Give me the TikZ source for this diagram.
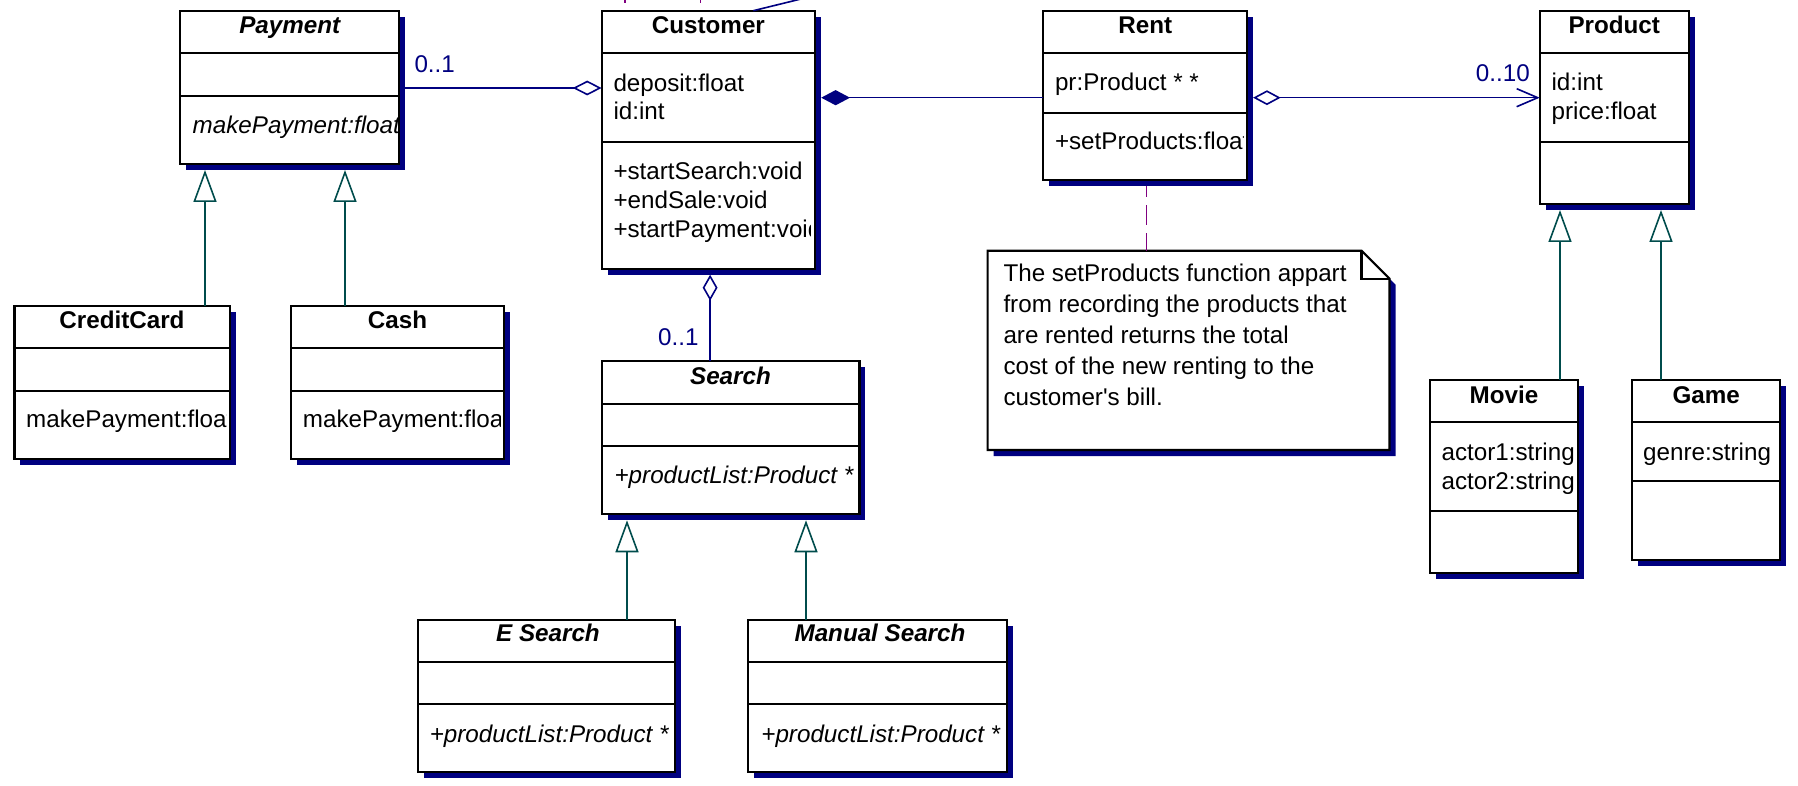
\documentclass[tikz,border=0pt]{standalone}
\usepackage{fontspec}
\setmainfont{Liberation Sans}
\usetikzlibrary{arrows.meta,shadows,calc}
\definecolor{navyc}{RGB}{0,0,128}
\definecolor{genc}{RGB}{0,76,76}
\definecolor{notec}{RGB}{128,0,128}
\newcommand{\dsz}{\fontsize{12.1}{14.5}\selectfont}
\newcommand{\umlclass}[5]{\node[umlbox, minimum width={(#4-#2)*0.5pt}, minimum height={(#5-#3)*0.5pt}, anchor=north west] (#1) at (#2,#3) {};}
\begin{document}
\begin{tikzpicture}[x=0.5pt, y=-0.5pt,
 umlbox/.style={draw=black, line width=1.1pt, fill=white, inner sep=0pt, outer sep=0pt,
   drop shadow={shadow xshift=3pt, shadow yshift=-3pt, fill=navyc, opacity=1}},
 sepline/.style={draw=black, line width=1.1pt},
 ttl/.style={anchor=mid, inner sep=0pt, font=\dsz\bfseries},
 attl/.style={anchor=mid, inner sep=0pt, font=\dsz\bfseries\itshape},
 mem/.style={anchor=mid west, inner sep=0pt, font=\dsz},
 amem/.style={anchor=mid west, inner sep=0pt, font=\dsz\itshape},
 mult/.style={anchor=mid, inner sep=0pt, font=\dsz, text=navyc},
 assoc/.style={draw=navyc, line width=0.8pt},
 gen/.style={draw=genc, line width=0.8pt, -{Triangle[open, length=16pt, width=11.5pt]}, shorten >=3pt},
 notelink/.style={draw=notec, line width=0.7pt, dash pattern=on 10pt off 4pt, dash phase=1pt},
]
\useasboundingbox (0,0) rectangle (1798,786);

% ---------- classes ----------
\umlclass{pay}{180.3}{10.7}{399}{164}
\draw[sepline] (180.3,53) -- (399,53);
\draw[sepline] (180.3,95.7) -- (399,95.7);
\node[attl] (payt) at (289.7,28.5) {Payment};
\begin{scope}
\clip ([xshift=0.55pt]pay.south west) rectangle ([xshift=-0.55pt]pay.north east);
\node[amem] (paym) at (192.3,128.5) {makePayment:float};
\end{scope}

\umlclass{cust}{601.6}{10.7}{815.2}{268.7}
\draw[sepline] (601.6,53) -- (815.2,53);
\draw[sepline] (601.6,141.7) -- (815.2,141.7);
\node[ttl] (custt) at (708.4,28.5) {Customer};
\begin{scope}
\clip ([xshift=0.55pt]cust.south west) rectangle ([xshift=-2.6pt]cust.north east);
\node[mem] (custa1) at (613.1,85.8) {deposit:float};
\node[mem] (custa2) at (613.1,114.5) {id:int};
\node[mem] (custm1) at (613.1,173.8) {+startSearch:void};
\node[mem] (custm2) at (613.1,203.5) {+endSale:void};
\node[mem] (custm3) at (613.1,232.5) {+startPayment:void};
\end{scope}

\umlclass{rent}{1043.2}{10.7}{1247.1}{180}
\draw[sepline] (1043.2,53) -- (1247.1,53);
\draw[sepline] (1043.2,112.7) -- (1247.1,112.7);
\node[ttl] (rentt) at (1145.2,28.5) {Rent};
\begin{scope}
\clip ([xshift=0.55pt]rent.south west) rectangle ([xshift=-1.6pt]rent.north east);
\node[mem] (renta) at (1054.6,85.1) {pr:Product * *};
\node[mem] (rentm) at (1054.6,144.5) {+setProducts:float};
\end{scope}

\umlclass{prod}{1539.7}{10.7}{1688.7}{204}
\draw[sepline] (1539.7,53) -- (1688.7,53);
\draw[sepline] (1539.7,141.7) -- (1688.7,141.7);
\node[ttl] (prodt) at (1614.2,28.5) {Product};
\node[mem] (proda1) at (1551.2,85.1) {id:int};
\node[mem] (proda2) at (1551.2,114.5) {price:float};

\umlclass{cc}{14.4}{305.7}{229.6}{459}
\draw[sepline] (14.4,348.3) -- (229.6,348.3);
\draw[sepline] (14.4,390.7) -- (229.6,390.7);
\node[ttl] (cct) at (122,323.5) {CreditCard};
\begin{scope}
\clip ([xshift=0.55pt]cc.south west) rectangle ([xshift=-1.6pt]cc.north east);
\node[mem] (ccm) at (25.8,422) {makePayment:float};
\end{scope}

\umlclass{cash}{291}{305.7}{504}{459}
\draw[sepline] (291,348.3) -- (504,348.3);
\draw[sepline] (291,390.7) -- (504,390.7);
\node[ttl] (casht) at (397.5,323.5) {Cash};
\begin{scope}
\clip ([xshift=0.55pt]cash.south west) rectangle ([xshift=-1.6pt]cash.north east);
\node[mem] (cashm) at (302.5,422) {makePayment:float};
\end{scope}

\umlclass{srch}{601.6}{361}{859.4}{514.3}
\draw[sepline] (601.6,404) -- (859.4,404);
\draw[sepline] (601.6,446) -- (859.4,446);
\node[attl] (srcht) at (730.5,379) {Search};
\node[amem] (srchm) at (614.2,477.8) {+productList:Product *};

\umlclass{esr}{417.9}{620}{675.1}{772.3}
\draw[sepline] (417.9,662) -- (675.1,662);
\draw[sepline] (417.9,704.3) -- (675.1,704.3);
\node[attl] (esrt) at (548,636.5) {E Search};
\node[amem] (esrm) at (429.4,736.8) {+productList:Product *};

\umlclass{msr}{748.3}{620}{1006.7}{772.3}
\draw[sepline] (748.3,662) -- (1006.7,662);
\draw[sepline] (748.3,704.3) -- (1006.7,704.3);
\node[attl] (msrt) at (880,636.5) {Manual Search};
\node[amem] (msrm) at (761,736.8) {+productList:Product *};

\umlclass{movie}{1429.8}{380}{1578.1}{572.7}
\draw[sepline] (1429.8,422.3) -- (1578.1,422.3);
\draw[sepline] (1429.8,510.7) -- (1578.1,510.7);
\node[ttl] (moviet) at (1504,398) {Movie};
\begin{scope}
\clip ([xshift=0.55pt]movie.south west) rectangle ([xshift=-0.8pt]movie.north east);
\node[mem] (moviea1) at (1441.2,455.1) {actor1:string};
\node[mem] (moviea2) at (1441.2,484.1) {actor2:string};
\end{scope}

\umlclass{game}{1632}{380}{1780.3}{560}
\draw[sepline] (1632,422.3) -- (1780.3,422.3);
\draw[sepline] (1632,481) -- (1780.3,481);
\node[ttl] (gamet) at (1706.2,398) {Game};
\node[mem] (gamea) at (1642.8,455.1) {genre:string};

% ---------- note ----------
\node[inner sep=0pt, outer sep=0pt, minimum width=200.95pt, minimum height=99.65pt, anchor=north west] (note) at (987.6,250.7) {};
\fill[navyc] ($(note.north west)+(6,6)$) -- ($(note.north east)+(-22,6)$) -- ($(note.north east)+(6,34)$)
  -- ($(note.south east)+(6,6)$) -- ($(note.south west)+(6,6)$) -- cycle;
\draw[fill=white, line width=1.1pt] (note.north west) -- ($(note.north east)+(-28,0)$) -- ($(note.north east)+(0,28)$)
  -- (note.south east) -- (note.south west) -- cycle;
\draw[line width=1.1pt] ($(note.north east)+(-28,0)$) -- ($(note.north east)+(-28,28)$) -- ($(note.north east)+(0,28)$);
\node[anchor=north west, inner sep=0pt, align=left, font=\fontsize{12.1}{15.45}\selectfont] (notetxt) at (1003.1,264)
  {The setProducts function appart\\from recording the products that\\are rented returns the total\\cost of the new renting to the\\customer\textquotesingle s bill.};

% ---------- connectors ----------
\coordinate (ya) at (0,88);
\coordinate (yb) at (0,97.7);
\draw[assoc, -{Diamond[open, length=14.4pt, width=7.4pt]}, shorten <=3pt] (pay.east |- ya) -- (cust.west |- ya);
\draw[assoc, {Diamond[length=14.4pt, width=7.6pt]}-, shorten <=3pt] (cust.east |- yb) -- (rent.west |- yb);
\draw[assoc, {Diamond[open, length=13.8pt, width=7.4pt]}-{Straight Barb[length=10.5pt, width=9pt]}, shorten <=3pt] (rent.east |- yb) -- (prod.west |- yb);
\coordinate (xc) at (710.1,0);
\draw[assoc, -{Diamond[open, length=13pt, width=7.4pt]}, shorten >=3pt] (srch.north -| xc) -- (cust.south -| xc);

\node[mult] (m1) at (434.7,67.5) {0..1};
\node[mult] (m2) at (1502.8,76) {0..10};
\node[mult] (m3) at (678.3,340) {0..1};

\coordinate (g1) at (205,0);
\coordinate (g2) at (345,0);
\coordinate (g3) at (627,0);
\coordinate (g4) at (806,0);
\coordinate (g5) at (1560,0);
\coordinate (g6) at (1661,0);
\draw[gen] (cc.north -| g1) -- (pay.south -| g1);
\draw[gen] (cash.north -| g2) -- (pay.south -| g2);
\draw[gen] (esr.north -| g3) -- (srch.south -| g3);
\draw[gen] (msr.north -| g4) -- (srch.south -| g4);
\draw[gen] (movie.north -| g5) -- (prod.south -| g5);
\draw[gen] (game.north -| g6) -- (prod.south -| g6);

\coordinate (xn) at (1146.3,0);
\draw[notelink, shorten >=3pt] (note.north -| xn) -- (rent.south -| xn);

% ---------- cut-off fragments at the top edge ----------
\coordinate (xt) at (753.3,0);
\coordinate (topend) at (805,-2);
\draw[assoc] (cust.north -| xt) -- (topend);
\draw[draw=notec, line width=0.7pt] (625,-3) -- (625,3.5);
\draw[draw=notec, line width=0.7pt] (700.7,-3) -- (700.7,3.5);
\end{tikzpicture}
\end{document}
